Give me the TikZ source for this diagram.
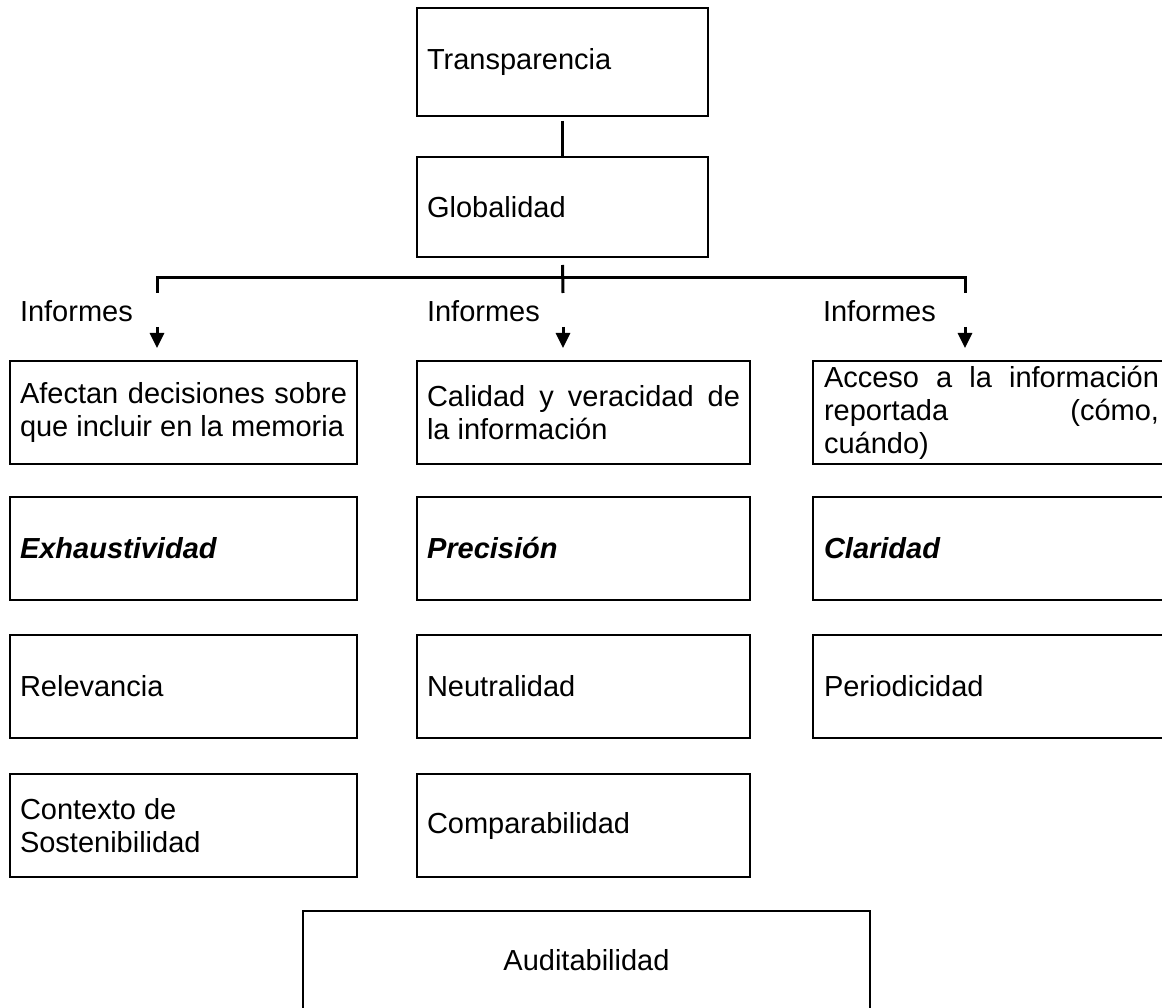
\documentclass[tikz,border=0pt]{standalone}
\usepackage{fontspec}
\setmainfont{Liberation Sans}
\usetikzlibrary{positioning,arrows.meta}
\tikzset{
  box/.style={draw, line width=2pt, rectangle, align=flush left, inner xsep=10pt,
  inner ysep=0pt, minimum height=103pt, font=\fontsize{29}{33}\selectfont},
  colA/.style={text width=327pt, minimum width=347pt},
  colB/.style={text width=313pt, minimum width=333pt},
  colC/.style={text width=335pt, minimum width=357pt},
  topbox/.style={text width=271pt, minimum width=291pt},
  lbl/.style={anchor=west, inner sep=0pt, font=\fontsize{29}{33}\selectfont},
  conn/.style={line width=3pt}
}
\newcommand{\jline}[1]{\leavevmode\hbox to\hsize{\spaceskip=.278em plus 1fil\relax #1}}

\begin{document}
\begin{tikzpicture}[x=1pt,y=-1pt,outer sep=0pt,>={Triangle[width=14pt,length=15pt]}]
\useasboundingbox (0,0) rectangle (1162,1008);
\clip (0,0) rectangle (1162,1008);
% top of the tree
\node (trans) [box,topbox,anchor=north west,minimum height=108pt] at (417,8) {Transparencia};
\node (glob) [box,topbox,anchor=north west,minimum height=100pt] at (417,157) {Globalidad};
% labels over the three columns
\node (infA) [lbl] at (20,311) {Informes};
\node (infB) [lbl] at (427,311) {Informes};
\node (infC) [lbl] at (823,311) {Informes};
% first row
\node (descA) [box,colA,anchor=north west] at (10,361)
  {\jline{Afectan decisiones sobre}\\que incluir en la memoria};
\node (descB) [box,colB,anchor=north west] at (417,361)
  {\jline{Calidad y veracidad de}\\la información};
\node (descC) [box,colC,anchor=north west] at (813,361)
  {\jline{Acceso a la información}\\\jline{reportada (cómo,}\\cuándo)};
% second row
\node (exh) [box,colA,anchor=north west] at (10,497) {\textbf{\textit{Exhaustividad}}};
\node (prec) [box,colB,anchor=north west] at (417,497) {\textbf{\textit{Precisión}}};
\node (clar) [box,colC,anchor=north west] at (813,497) {\textbf{\textit{Claridad}}};
% third row
\node (relev) [box,colA,anchor=north west] at (10,635) {Relevancia};
\node (neutr) [box,colB,anchor=north west] at (417,635) {Neutralidad};
\node (perio) [box,colC,anchor=north west] at (813,635) {Periodicidad};
% fourth row
\node (ctx) [box,colA,anchor=north west] at (10,774) {Contexto de\\Sostenibilidad};
\node (comp) [box,colB,anchor=north west] at (417,774) {Comparabilidad};
% bottom
\node (audit) [box,anchor=north west,align=center,text width=547pt,
  minimum width=567pt,minimum height=99pt] at (303,911) {Auditabilidad};
% connectors
\coordinate (busM) at (563,278);
\coordinate (tickL) at (157,293);
\coordinate (tickR) at (965,293);
\draw[conn] ([yshift=-5pt]trans.south) -- (glob.north);
\draw[conn] ([yshift=-8pt]glob.south) -- (busM |- tickL);
\draw[conn] (tickL) -- (tickL |- busM) -- (tickR |- busM) -- (tickR);
\coordinate (arrA) at (157,327);
\coordinate (arrB) at (563,327);
\coordinate (arrC) at (965,327);
\coordinate (tipA) at (157,348);
\coordinate (tipB) at (563,348);
\coordinate (tipC) at (965,348);
\draw[conn,->] (arrA) -- (tipA);
\draw[conn,->] (arrB) -- (tipB);
\draw[conn,->] (arrC) -- (tipC);
\end{tikzpicture}
\end{document}
